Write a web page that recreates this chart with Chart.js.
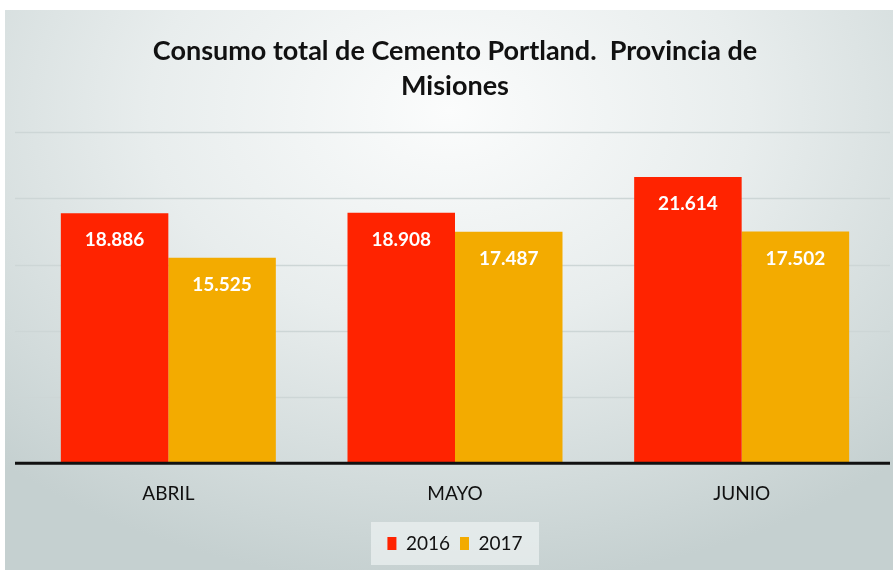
<!DOCTYPE html>
<html>
<head>
<meta charset="utf-8">
<script src="https://cdn.jsdelivr.net/npm/chart.js@4"></script>
<style>
  html, body { margin: 0; padding: 0; background: #fff; }
  #wrap {
    position: absolute; left: 5px; top: 10px; width: 888px; height: 560px;
    background: radial-gradient(ellipse 75% 85% at 50% 18%, #fbfcfc 0%, #e8eded 45%, #d2dbdb 80%, #c5d0d0 100%);
  }
</style>
</head>
<body>
<div id="wrap"><canvas id="c" width="888" height="560"></canvas></div>
<script>
  /* ---------- Data ---------- */
  const MONTHS = ['ABRIL', 'MAYO', 'JUNIO'];
  const SERIES_2016 = [18.886, 18.908, 21.614];
  const SERIES_2017 = [15.525, 17.487, 17.502];
  const YEARS = ['2016', '2017'];
  const COLORS = ['#ff2300', '#f3ab00'];
  const FONT = 'Lato, "Open Sans", sans-serif';

  // format 18.886 -> "18.886" (thousands dot, as in the source)
  const fmt = (v) => v.toFixed(3);

  /* ---------- Plugins ---------- */
  const gridAndAxis = {
    id: 'gridAndAxis',
    beforeDatasetsDraw(chart) {
      const { ctx, chartArea: a, scales } = chart;
      const y = scales.y;
      ctx.save();
      ctx.strokeStyle = '#cdd6d6';
      ctx.lineWidth = 1.5;
      y.ticks.forEach((t) => {
        if (t.value === 0) return;
        const py = Math.round(y.getPixelForValue(t.value)) + 0.5;
        ctx.beginPath();
        ctx.moveTo(a.left - 10, py);
        ctx.lineTo(a.right + 5, py);
        ctx.stroke();
      });
      ctx.restore();
    },
    afterDatasetsDraw(chart) {
      const { ctx, chartArea: a, scales } = chart;
      const py = scales.y.getPixelForValue(0);
      ctx.save();
      ctx.strokeStyle = '#111';
      ctx.lineWidth = 3;
      ctx.beginPath();
      ctx.moveTo(a.left - 10, py);
      ctx.lineTo(a.right + 5, py);
      ctx.stroke();
      ctx.restore();
    },
  };

  const barLabels = {
    id: 'barLabels',
    afterDatasetsDraw(chart) {
      const { ctx } = chart;
      ctx.save();
      ctx.fillStyle = '#fff';
      ctx.font = 'bold 19px ' + FONT;
      ctx.textAlign = 'center';
      ctx.textBaseline = 'middle';
      chart.data.datasets.forEach((ds, i) => {
        chart.getDatasetMeta(i).data.forEach((bar, j) => {
          ctx.fillText(fmt(ds.data[j]), bar.x, bar.y + 27);
        });
      });
      ctx.restore();
    },
  };

  const legendBox = {
    id: 'legendBox',
    beforeDraw(chart) {
      const l = chart.legend;
      if (!l) return;
      const { ctx } = chart;
      ctx.save();
      ctx.fillStyle = 'rgba(235,240,240,0.75)';
      const w = 168, h = 43;
      const cx = (l.left + l.right) / 2;
      const cy = (l.top + l.bottom) / 2;
      ctx.fillRect(cx - w / 2, cy - h / 2, w, h);
      ctx.restore();
    },
  };

  /* ---------- Chart ---------- */
  new Chart(document.getElementById('c'), {
    type: 'bar',
    data: {
      labels: MONTHS,
      datasets: [
        { label: YEARS[0], data: SERIES_2016, backgroundColor: COLORS[0] },
        { label: YEARS[1], data: SERIES_2017, backgroundColor: COLORS[1] },
      ],
    },
    options: {
      responsive: false,
      animation: false,
      events: [],
      layout: { padding: { top: 24, left: 20, right: 8, bottom: 7 } },
      datasets: { bar: { categoryPercentage: 0.75, barPercentage: 1.0 } },
      plugins: {
        title: {
          display: true,
          text: ['Consumo total de Cemento Portland.  Provincia de', 'Misiones'],
          color: '#111',
          font: { family: FONT, size: 27, weight: 'bold', lineHeight: 1.3 },
          padding: { top: 0, bottom: 28 },
        },
        legend: {
          position: 'bottom',
          labels: {
            color: '#111',
            font: { family: FONT, size: 19 },
            boxWidth: 9,
            boxHeight: 13,
            padding: 10,
          },
        },
        tooltip: { enabled: false },
      },
      scales: {
        x: {
          grid: { display: false, drawTicks: false },
          border: { display: false },
          ticks: { color: '#111', font: { family: FONT, size: 19 }, padding: 19 },
        },
        y: {
          min: 0,
          max: 25,
          ticks: { display: false, stepSize: 5 },
          grid: { display: false, drawTicks: false },
          border: { display: false },
        },
      },
    },
    plugins: [gridAndAxis, barLabels, legendBox],
  });
</script>
</body>
</html>
